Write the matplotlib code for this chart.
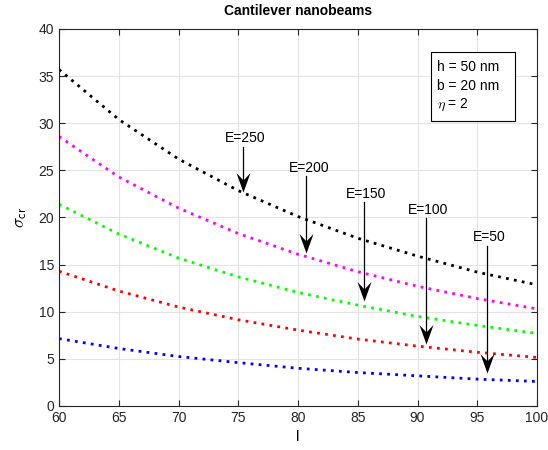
import numpy as np
import matplotlib.pyplot as plt
from matplotlib.path import Path

plt.rcParams['font.family'] = ['Liberation Sans', 'DejaVu Sans']
plt.rcParams['mathtext.fontset'] = 'cm'

# slenderness / length values and critical stress
l = [60, 65, 70, 75, 80, 85, 90, 95, 100]
sig_250 = [35.7, 30.4, 26.2, 22.85, 20.1, 17.8, 15.9, 14.2, 12.85]
sig_200 = [28.6, 24.3, 21.0, 18.3, 16.1, 14.25, 12.7, 11.4, 10.3]
sig_150 = [21.4, 18.25, 15.7, 13.7, 12.05, 10.7, 9.5, 8.55, 7.7]
sig_100 = [14.3, 12.2, 10.5, 9.15, 8.05, 7.1, 6.35, 5.7, 5.15]
sig_50 = [7.15, 6.1, 5.25, 4.6, 4.0, 3.55, 3.2, 2.85, 2.6]

labels = ['E=250', 'E=200', 'E=150', 'E=100', 'E=50']
arrow_x = [75.4, 80.7, 85.5, 90.7, 95.8]
arrow_top = [27.5, 24.4, 21.6, 19.9, 17.0]
arrow_tip = [22.7, 16.2, 11.1, 6.6, 3.5]

# matlab-like barbed arrow head, tip at origin pointing down
head = Path([(0, 0), (-0.36, 1.0), (0, 0.62), (0.36, 1.0), (0, 0)],
            [Path.MOVETO, Path.LINETO, Path.LINETO, Path.LINETO, Path.CLOSEPOLY])

fig = plt.figure(figsize=(5.48, 4.5), dpi=100)
ax = fig.add_axes([0.1077, 0.0978, 0.8723, 0.8378])

series = [sig_250, sig_200, sig_150, sig_100, sig_50]
colors = ['k', '#ff00ff', '#00ff00', '#ff0000', '#0000ff']
for s, c in zip(series, colors):
    ax.plot(l, s, color=c, linestyle=(0, (1, 1.9)), linewidth=2)

for lab, x, top, tip in zip(labels, arrow_x, arrow_top, arrow_tip):
    ax.plot([x, x], [top, tip + 0.9], color='k', lw=0.9, zorder=4)
    ax.plot([x], [tip], marker=head, markersize=28, color='k',
            markeredgewidth=0, zorder=5)
    ax.text(x + 0.2, top + 0.15, lab, ha='center', va='bottom', fontsize=10)

box = plt.Rectangle((0.778, 0.756), 0.176, 0.183, transform=ax.transAxes,
                    fc='white', ec='k', lw=0.8, zorder=6)
ax.add_patch(box)
box_lines = ['h = 50 nm', 'b = 20 nm', '$\\eta$ = 2']
for i, t in enumerate(box_lines):
    ax.text(0.791, 0.900 - 0.050 * i, t, transform=ax.transAxes,
            fontsize=10, va='center', ha='left', zorder=7)

ax.set_xlim(60, 100)
ax.set_ylim(0, 40)
ax.set_xticks(np.arange(60, 101, 5))
ax.set_yticks(np.arange(0, 41, 5))
ax.grid(True, color='#e3e3e3', linewidth=0.8)
ax.set_axisbelow(True)
ax.tick_params(direction='in', length=4, labelsize=10, colors='#262626',
               top=True, right=True, labeltop=False, labelright=False)
for sp in ax.spines.values():
    sp.set_color('#262626')
    sp.set_linewidth(0.8)

ax.set_title('Cantilever nanobeams', fontsize=10, fontweight='bold', pad=10)
ax.set_xlabel('l', fontsize=11)
ax.set_ylabel('$\\sigma_{\\mathsf{cr}}$', fontsize=12.5, labelpad=7)

fig.savefig('out.png', dpi=100)
